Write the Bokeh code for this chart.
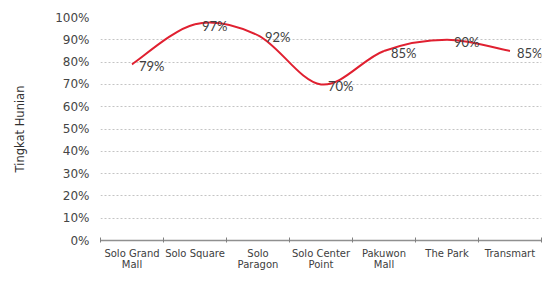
from bokeh.plotting import figure
from bokeh.models import FixedTicker, Range1d, ColumnDataSource
from bokeh.core.properties import value
from bokeh.embed import file_html
from bokeh.resources import INLINE

categories = ["Solo Grand\nMall", "Solo Square", "Solo\nParagon", "Solo Center\nPoint",
              "Pakuwon\nMall", "The Park", "Transmart"]
occupancy = [79, 97, 92, 70, 85, 90, 85]
y_ticks = [0, 10, 20, 30, 40, 50, 60, 70, 80, 90, 100]

xs = [i + 0.5 for i in range(len(categories))]

# Smooth (Excel-like) curve as cubic Bezier segments, control points from the data
n = len(xs)
x0, y0, x1, y1, cx0, cy0, cx1, cy1 = [], [], [], [], [], [], [], []
for i in range(n - 1):
    pm = i - 1 if i > 0 else i
    pp = i + 2 if i + 2 < n else i + 1
    x0.append(xs[i]); y0.append(occupancy[i])
    x1.append(xs[i + 1]); y1.append(occupancy[i + 1])
    cx0.append(xs[i] + (xs[i + 1] - xs[pm]) / 6)
    cy0.append(occupancy[i] + (occupancy[i + 1] - occupancy[pm]) / 6)
    cx1.append(xs[i + 1] - (xs[pp] - xs[i]) / 6)
    cy1.append(occupancy[i + 1] - (occupancy[pp] - occupancy[i]) / 6)

p = figure(width=543, height=272, output_backend="svg", toolbar_location=None,
           x_range=Range1d(0, len(categories)), y_range=Range1d(0, 100),
           min_border_left=100, min_border_right=2, min_border_top=17)
p.outline_line_color = None
p.background_fill_color = "white"
p.border_fill_color = "white"

p.bezier(x0=x0, y0=y0, x1=x1, y1=y1, cx0=cx0, cy0=cy0, cx1=cx1, cy1=cy1,
         line_color="#e02030", line_width=2)

src = ColumnDataSource(dict(x=xs, y=occupancy, t=[f"{v}%" for v in occupancy]))
p.text(x="x", y="y", text="t", source=src, x_offset=7, y_offset=2,
       text_baseline="middle", text_align="left", text_font=value("Lato"),
       text_font_size="13px", text_color="#404040")

# x axis
p.xaxis.ticker = FixedTicker(ticks=xs, minor_ticks=list(range(len(categories) + 1)))
p.xaxis.major_label_overrides = {x: c for x, c in zip(xs, categories)}
p.xaxis.major_tick_out = 0
p.xaxis.major_tick_in = 0
p.xaxis.minor_tick_in = 3
p.xaxis.minor_tick_out = 2
p.xaxis.minor_tick_line_color = "#808080"
p.xaxis.axis_line_color = "#909090"
p.xaxis.axis_line_width = 1.5
p.xaxis.major_label_text_font = "DejaVu Sans"
p.xaxis.major_label_text_font_size = "10px"
p.xaxis.major_label_text_line_height = 1.0
p.xaxis.major_label_text_color = "#404040"
p.xaxis.major_label_standoff = 5
p.xgrid.grid_line_color = None

# y axis
p.yaxis.ticker = FixedTicker(ticks=y_ticks, minor_ticks=[])
p.yaxis.major_label_overrides = {v: f"{v}%" for v in y_ticks}
p.yaxis.axis_line_color = None
p.yaxis.major_tick_line_color = None
p.yaxis.major_tick_out = 0
p.yaxis.major_label_standoff = 11
p.yaxis.major_label_text_font = "DejaVu Sans"
p.yaxis.major_label_text_font_size = "12px"
p.yaxis.major_label_text_color = "#454545"
p.yaxis.axis_label = "Tingkat Hunian"
p.yaxis.axis_label_text_font = "DejaVu Sans"
p.yaxis.axis_label_text_font_size = "11.5px"
p.yaxis.axis_label_text_font_style = "normal"
p.yaxis.axis_label_text_color = "#303030"
p.yaxis.axis_label_standoff = 25
p.ygrid.grid_line_color = "#c4c4c4"
p.ygrid.grid_line_dash = "2 2"
p.ygrid.grid_line_width = 1

open("out.html", "w").write(file_html(p, INLINE))
